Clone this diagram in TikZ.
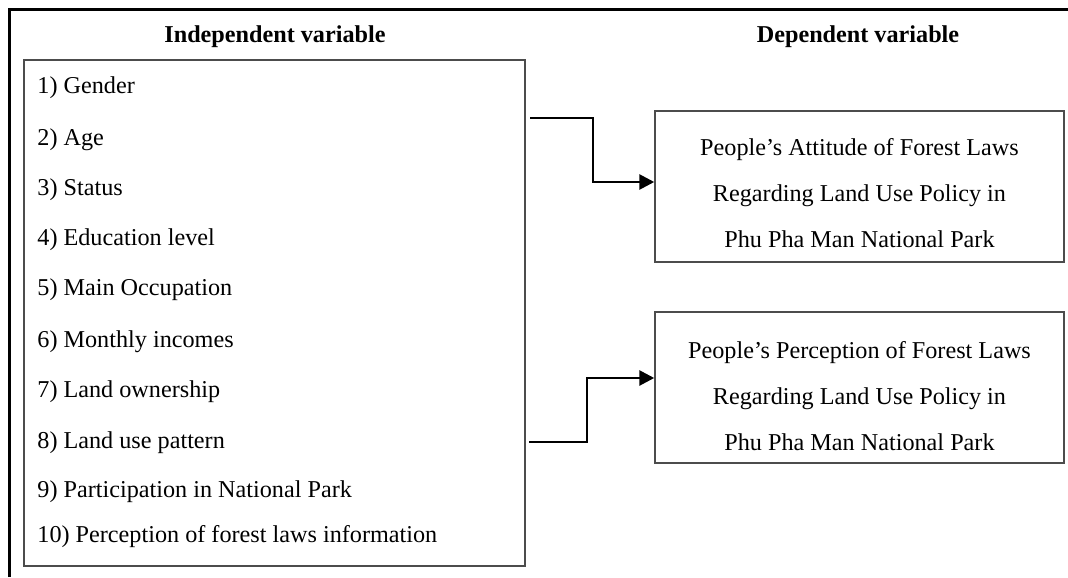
\documentclass[tikz,border=0pt]{standalone}
\usepackage{fontspec}
\setmainfont{Liberation Serif}
\usetikzlibrary{arrows.meta}

\begin{document}
\begin{tikzpicture}[x=0.5pt,y=-0.5pt,>={Triangle[length=7.5pt,width=7.5pt]},
    every node/.style={font=\fontsize{12.1}{23}\selectfont},
    item/.style={anchor=west, inner sep=0pt},
    head/.style={font=\fontsize{12.1}{23}\selectfont\bfseries},
    varbox/.style={draw=black!70, line width=0.75pt, rectangle, inner sep=0pt},
    link/.style={->, line width=1.4pt, line join=miter}]
        \useasboundingbox (0,0) rectangle (1068,577);
        % frame, cut at the right and at the bottom
        \draw [line width=1.5pt] (9,577) -- (9,10) -- (1068,10);

        \node [head] (ivhead) at (275,37) {Independent variable};
        \node [head] (dvhead) at (858,37) {Dependent variable};

        \node [varbox, minimum width=250.5pt, minimum height=253pt] (ivbox) at (274.5,313) {};
        \node [item] (v1) at (37,88) {1) Gender};
        \node [item] (v2) at (37,140) {2) Age};
        \node [item] (v3) at (37,190) {3) Status};
        \node [item] (v4) at (37,240) {4) Education level};
        \node [item] (v5) at (37,290) {5) Main Occupation};
        \node [item] (v6) at (37,342) {6) Monthly incomes};
        \node [item] (v7) at (37,392) {7) Land ownership};
        \node [item] (v8) at (37,443) {8) Land use pattern};
        \node [item] (v9) at (37,492) {9) Participation in National Park};
        \node [item] (v10) at (37,537) {10) Perception of forest laws information};

        \node [varbox, minimum width=204.5pt, minimum height=75.5pt] (att) at (859.5,186.5) {};
        \node [align=center] (atttext) at (859.5,193.5) {People’s Attitude of Forest Laws\\Regarding Land Use Policy in\\Phu Pha Man National Park};
        \node [varbox, minimum width=204.5pt, minimum height=75.5pt] (per) at (859.5,387.5) {};
        \node [align=center] (pertext) at (859.5,396) {People’s Perception of Forest Laws\\Regarding Land Use Policy in\\Phu Pha Man National Park};

        \coordinate (a1) at (530,118);
        \coordinate (a2) at (529,442);
        \draw [link] (a1) -- (593,118) -- (593,182) -- (att.west |- 0,182);
        \draw [link] (a2) -- (587,442) -- (587,378) -- (per.west |- 0,378);
    \end{tikzpicture}
\end{document}
